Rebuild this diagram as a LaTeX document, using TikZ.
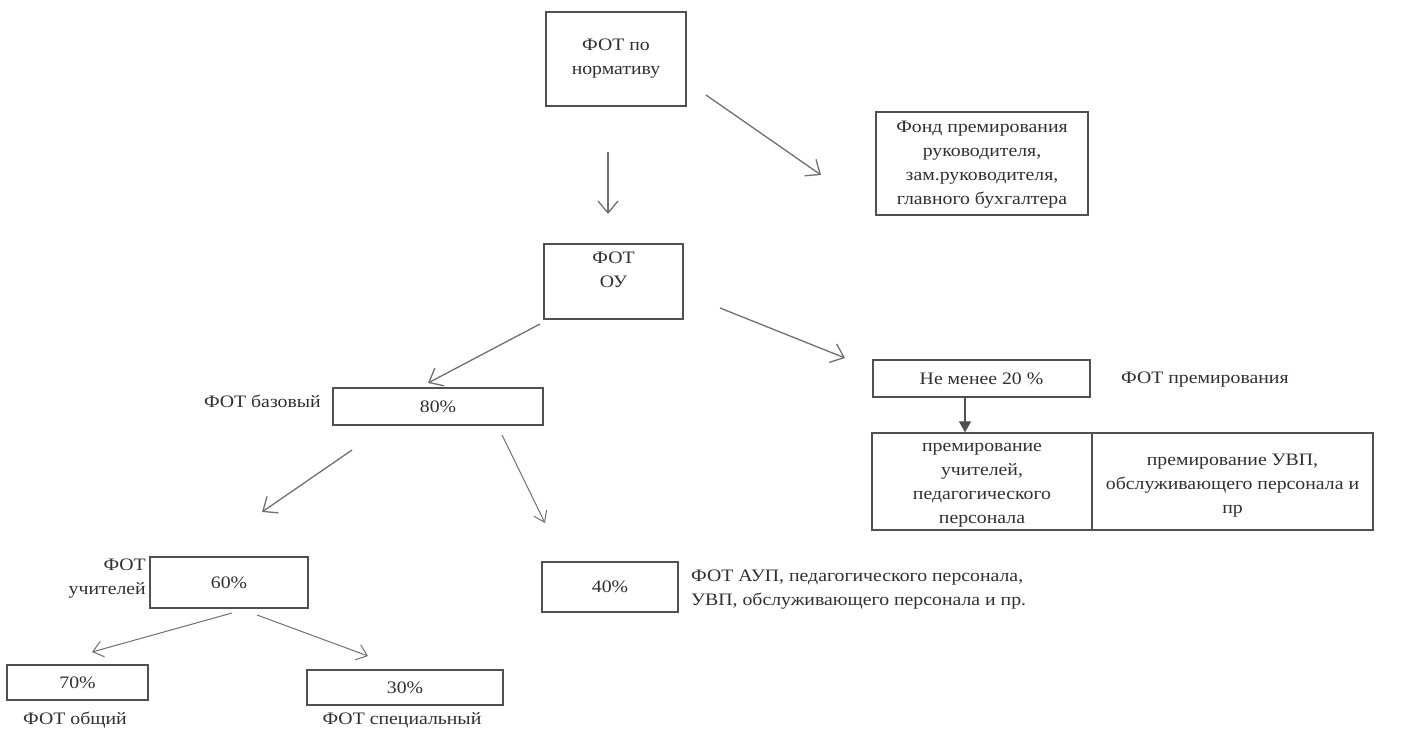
\documentclass[tikz,border=0pt]{standalone}
\usepackage{fontspec}
\setmainfont{Liberation Serif}[FakeStretch=1.13]
\usetikzlibrary{arrows.meta}
\definecolor{ink}{HTML}{303030}
\definecolor{boxc}{HTML}{505050}
\definecolor{arrc}{HTML}{707070}
\newcommand\dfont{\fontsize{17.5}{24}\selectfont}
\begin{document}
\begin{tikzpicture}[x=1pt,y=-1pt,
  box/.style={draw=boxc, line width=1.3pt, rectangle, inner sep=0pt, align=center, font=\dfont, text=ink},
  conn/.style={draw=arrc, line width=1.3pt, -{Straight Barb[length=12pt,width=20pt,line width=1.3pt]}},
  thinconn/.style={draw=arrc, line width=1pt, -{Straight Barb[length=10pt,width=16pt,line width=1pt]}},
  smallarr/.style={draw=boxc, line width=1.2pt, -{Triangle[length=11pt,width=12pt]}},
  lbl/.style={font=\dfont, text=ink, inner sep=0pt, align=center}]
\fill[white] (0,0) rectangle (1423,733);
\useasboundingbox (0,0) rectangle (1423,733);

% boxes
\node[box, minimum width=140pt, minimum height=94pt] (norm) at (616,59) {};
\node[lbl] (normtext) at (616,59) {ФОТ по\\нормативу};
\node[box, minimum width=212pt, minimum height=103pt] (fond) at (982,163.5) {};
\node[lbl] (fondtext) at (982,165) {Фонд премирования\\руководителя,\\зам.руководителя,\\главного бухгалтера};
\node[box, minimum width=139pt, minimum height=75pt] (ou) at (613.5,281.5) {};
\node[lbl] (outext) at (613.5,270) {ФОТ\\ОУ};
\node[box, minimum width=210pt, minimum height=37pt] (base) at (438,406.5) {80\%};
\node[box, minimum width=217pt, minimum height=37pt] (prem) at (981.5,378.5) {Не менее 20 \%};
\node[box, minimum width=220pt, minimum height=97pt] (pt) at (982,481.5) {};
\node[lbl] (pttext) at (982,485.5) {премирование\\учителей,\\педагогического\\персонала};
\node[box, minimum width=281pt, minimum height=97pt] (pu) at (1232.5,481.5) {};
\node[lbl] (putext) at (1232.5,486) {премирование УВП,\\обслуживающего персонала и\\пр};
\node[box, minimum width=158pt, minimum height=51pt] (teach) at (229,582.5) {60\%};
\node[box, minimum width=141pt, minimum height=35pt] (gen) at (77.5,682.5) {70\%};
\node[box, minimum width=196pt, minimum height=35pt] (spec) at (405,687.5) {30\%};
\node[box, minimum width=136pt, minimum height=50pt] (aup) at (610,587) {40\%};

% labels
\node[lbl, anchor=east] (lbase) at (321,401) {ФОТ базовый};
\node[lbl, anchor=west] (lprem) at (1121,380) {ФОТ премирования};
\node[lbl, anchor=east, align=right] (lteach) at (146,579) {ФОТ\\учителей};
\node[lbl] (lgen) at (75,720) {ФОТ общий};
\node[lbl] (lspec) at (402,720) {ФОТ специальный};
\node[lbl, anchor=west, align=left] (laup) at (691,590) {ФОТ АУП, педагогического персонала,\\УВП, обслуживающего персонала и пр.};

% connector endpoints
\coordinate (a1s) at (608,152); \coordinate (a1e) at (608,214);
\coordinate (a2s) at (706,95);  \coordinate (a2e) at (821,175);
\coordinate (a3s) at (540,324); \coordinate (a3e) at (428,383);
\coordinate (a4s) at (720,308); \coordinate (a4e) at (845,358);
\coordinate (a5s) at (352,450); \coordinate (a5e) at (262,512);
\coordinate (a6s) at (502,435); \coordinate (a6e) at (545,523);
\coordinate (a8s) at (232,613); \coordinate (a8e) at (92,652);
\coordinate (a9s) at (257,615); \coordinate (a9e) at (368,656);

\draw[conn] (a1s) -- (a1e);
\draw[conn] (a2s) -- (a2e);
\draw[conn] (a3s) -- (a3e);
\draw[conn] (a4s) -- (a4e);
\draw[conn] (a5s) -- (a5e);
\draw[thinconn, -{Straight Barb[length=10pt,width=14pt,line width=1pt]}] (a6s) -- (a6e);
\draw[smallarr] (prem.south -| 965,0) -- (pt.north -| 965,0);
\draw[thinconn] (a8s) -- (a8e);
\draw[thinconn] (a9s) -- (a9e);
\end{tikzpicture}
\end{document}
